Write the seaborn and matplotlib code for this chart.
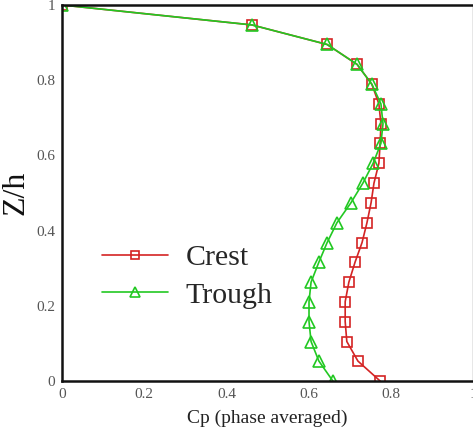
import matplotlib
matplotlib.use("Agg")
import matplotlib.pyplot as plt
import seaborn as sns
import pandas as pd
from matplotlib.ticker import FuncFormatter, MultipleLocator

# Data
z_levels = [1.0, 0.947, 0.895, 0.842, 0.789, 0.737, 0.684, 0.632, 0.579, 0.526,
            0.474, 0.421, 0.368, 0.316, 0.263, 0.211, 0.158, 0.105, 0.053, 0.0]
crest_cp = [0.0, 0.462, 0.645, 0.718, 0.754, 0.771, 0.776, 0.774, 0.771, 0.759,
            0.752, 0.742, 0.730, 0.713, 0.698, 0.689, 0.689, 0.693, 0.720, 0.774]
trough_cp = [0.0, 0.462, 0.645, 0.718, 0.754, 0.776, 0.781, 0.776, 0.757, 0.732,
             0.703, 0.669, 0.645, 0.625, 0.606, 0.601, 0.601, 0.606, 0.625, 0.659]
series_names = ["Crest", "Trough"]

sns.set_style("white")
plt.rcParams['font.family'] = ['Liberation Serif', 'DejaVu Serif']

fig = plt.figure(figsize=(4.73, 4.36), dpi=100)
ax = fig.add_axes([62/473, 55/436, 411/473, 376/436])

df_c = pd.DataFrame({"Cp": crest_cp, "Z": z_levels})
df_t = pd.DataFrame({"Cp": trough_cp, "Z": z_levels})

red = "#d42424"
green = "#22c822"
sns.lineplot(data=df_c, x="Cp", y="Z", sort=False, estimator=None, ax=ax, color=red, lw=1.2,
             marker="s", markersize=7.5, markerfacecolor="none", markeredgecolor=red,
             markeredgewidth=1.2, label=series_names[0])
sns.lineplot(data=df_t, x="Cp", y="Z", sort=False, estimator=None, ax=ax, color=green, lw=1.2,
             marker="^", markersize=8, markerfacecolor="none", markeredgecolor=green,
             markeredgewidth=1.2, label=series_names[1])

ax.set_xlim(0, 1)
ax.set_ylim(0, 1)
ax.xaxis.set_major_locator(MultipleLocator(0.2))
ax.yaxis.set_major_locator(MultipleLocator(0.2))
fmt = FuncFormatter(lambda v, p: "{:g}".format(round(v, 2)))
ax.xaxis.set_major_formatter(fmt)
ax.yaxis.set_major_formatter(fmt)
ax.tick_params(length=0, labelsize=11, labelcolor="#555555", pad=5)

for s in ["left", "bottom", "top"]:
    ax.spines[s].set_color("#111111")
    ax.spines[s].set_linewidth(1.8)
ax.spines["right"].set_color("#888888")
ax.spines["right"].set_linewidth(1.0)

ax.set_xlabel("Cp (phase averaged)", fontsize=14, color="#222222", labelpad=6)
ax.set_ylabel("Z/h", fontsize=23, color="#111111")
ax.yaxis.set_label_coords(-0.077, 0.5)

leg = ax.legend(loc="center left", bbox_to_anchor=(0.097, 0.278), frameon=False,
                fontsize=21.5, handlelength=2.2, handletextpad=0.6,
                labelspacing=0.35, borderpad=0, borderaxespad=0, markerscale=0.85)

fig.savefig("out.png", dpi=100)
